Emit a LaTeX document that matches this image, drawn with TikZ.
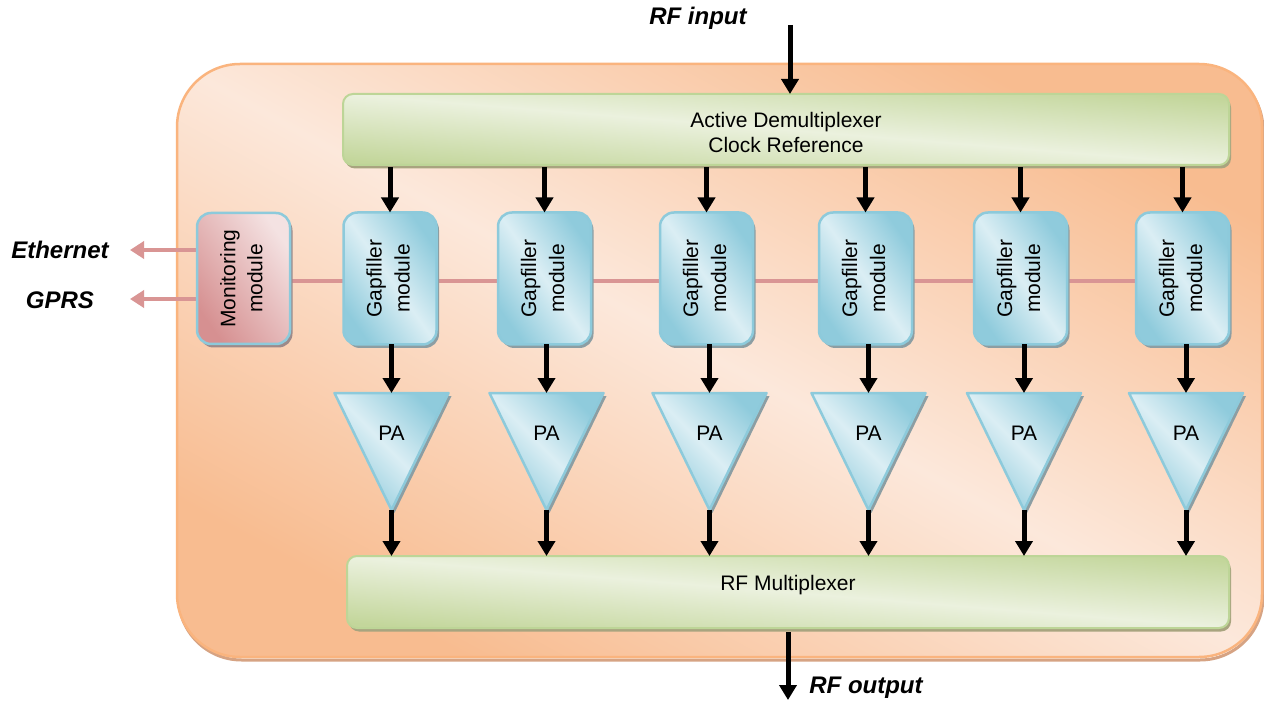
\documentclass[tikz,border=0pt]{standalone}
\usepackage{fontspec}
\setmainfont{Liberation Sans}
\usetikzlibrary{arrows.meta,shadows,calc}
\definecolor{oLight}{HTML}{FCE8DB}
\definecolor{oDark}{HTML}{F8BC90}
\definecolor{oBord}{HTML}{FAB47E}
\definecolor{oShad}{HTML}{D6A383}
\definecolor{gLight}{HTML}{EBF1DE}
\definecolor{gDark}{HTML}{C3D69B}
\definecolor{gBord}{HTML}{BDD597}
\definecolor{gShad}{HTML}{A8A47F}
\definecolor{bLight}{HTML}{DBEEF4}
\definecolor{bDark}{HTML}{8FCBDC}
\definecolor{bBord}{HTML}{8DCADB}
\definecolor{bShad}{HTML}{8C9EA3}
\definecolor{rLight}{HTML}{F4E2E2}
\definecolor{rDark}{HTML}{D69091}
\definecolor{rShad}{HTML}{9C8A8A}
\definecolor{pinkline}{HTML}{D99594}
\pgfdeclarelayer{framelayer}
\pgfdeclarelayer{wirelayer}
\pgfsetlayers{framelayer,wirelayer,main}
\begin{document}
\begin{tikzpicture}[x=1pt,y=-1pt,
  every node/.style={font=\fontsize{21}{25}\selectfont, inner sep=0pt, outer sep=0pt},
  lbl/.style={font=\fontsize{24}{28}\selectfont\bfseries\itshape},
  gbox/.style={rounded corners=10pt, draw=gBord, line width=2pt,
    top color=gDark, bottom color=gDark, middle color=gLight, shading angle=-4.6,
    drop shadow={shadow xshift=2pt, shadow yshift=-3.5pt, fill=gShad, opacity=1}},
  bbox/.style={rounded corners=14pt, draw=bBord, line width=2.5pt,
    minimum width=93pt, minimum height=132pt,
    top color=bDark, bottom color=bDark, middle color=bLight, shading angle=-54.8,
    drop shadow={shadow xshift=2.5pt, shadow yshift=-3.5pt, fill=bShad, opacity=1}},
  rbox/.style={rounded corners=14pt, draw=bBord, line width=2.5pt,
    minimum width=93pt, minimum height=131pt,
    top color=rLight, bottom color=rDark, shading angle=-54.8,
    drop shadow={shadow xshift=2.5pt, shadow yshift=-3.5pt, fill=rShad, opacity=1}},
  pashape/.style={draw=bBord, line width=2.5pt, line join=round,
    top color=bDark, bottom color=bDark, middle color=bLight, shading angle=-45.7,
    drop shadow={shadow xshift=3pt, shadow yshift=-3pt, fill=bShad, opacity=1}},
  blk/.style={line width=5pt, -{Triangle[width=17pt,length=15pt]}},
  pinkarrow/.style={draw=pinkline, line width=4.5pt, -{Triangle[width=17pt,length=14pt]}}
]
\useasboundingbox (0,0) rectangle (1264,703);

% outer frame
\begin{pgfonlayer}{framelayer}
  \fill[white] (0,0) rectangle (1264,703);
  \draw[oShad, line width=3pt, rounded corners=63pt] (178.5,67) rectangle (1263,660);
  \shade[top color=oDark, bottom color=oDark, middle color=oLight, shading angle=-28.6,
         rounded corners=63pt] (177,64) rectangle (1262,657);
  \draw[oBord, line width=2.5pt, rounded corners=63pt] (177,64) rectangle (1262,657);
\end{pgfonlayer}

% big boxes
\node[gbox, minimum width=886pt, minimum height=71pt, align=center, text height=46pt] (demux) at (786,129.5)
  {Active Demultiplexer\\Clock Reference};
\node[gbox, minimum width=882pt, minimum height=72pt, text depth=18pt] (mux) at (788,592)
  {RF Multiplexer};

% monitoring module
\node[rbox] (mon) at (243.5,278.5)
  {\rotatebox{90}{\fontsize{21}{27}\selectfont\begin{tabular}{@{}c@{}}Monitoring\\module\end{tabular}}};

% gapfiller modules
\foreach \i/\gx in {1/390,2/544.5,3/706.5,4/865.5,5/1020.5,6/1182.5}{
  \node[bbox] (gf\i) at (\gx,278.5)
    {\rotatebox{90}{\fontsize{21}{28}\selectfont\begin{tabular}{@{}c@{}}Gapfiller\\module\end{tabular}}};
}

% PA amplifiers
\foreach \i/\px in {1/391.5,2/546.5,3/709.5,4/868.5,5/1024,6/1186}{
  \path[pashape] (\px-57,393) -- (\px+57,393) -- (\px,510) -- cycle;
  \coordinate (pat\i) at (\px,393);
  \coordinate (pab\i) at (\px,510);
  \node (pa\i) at (\px,433) {PA};
}

% bus line and external links
\begin{pgfonlayer}{wirelayer}
  \draw[pinkline, line width=4.5pt] ([yshift=-2.5pt]mon.east) -- ([yshift=-2.5pt]gf6.west);
  \coordinate (eth) at (130,250);
  \coordinate (gprs) at (130,299);
  \draw[pinkarrow] (mon.west |- eth) -- (eth);
  \draw[pinkarrow] (mon.west |- gprs) -- (gprs);
\end{pgfonlayer}

% labels
\node[lbl] (ethlbl) at (60,250) {Ethernet};
\node[lbl] (gprslbl) at (60,300) {GPRS};
\node[lbl] (rfinlbl) at (698,18) {RF input};
\node[lbl] (rfoutlbl) at (866,688) {RF output};

% arrows
\coordinate (rfin) at (790,25);
\draw[blk] (rfin) -- (rfin |- demux.north);
\coordinate (rfout) at (788,700);
\draw[blk] ([yshift=-4pt]mux.south -| rfout) -- (rfout);
\foreach \i in {1,...,6}{
  \draw[blk] ([yshift=-2pt]demux.south -| gf\i) -- (gf\i.north);
  \draw[blk] (pat\i |- gf\i.south) -- (pat\i);
  \draw[blk] (pab\i) -- (pab\i |- mux.north);
}
\end{tikzpicture}
\end{document}
